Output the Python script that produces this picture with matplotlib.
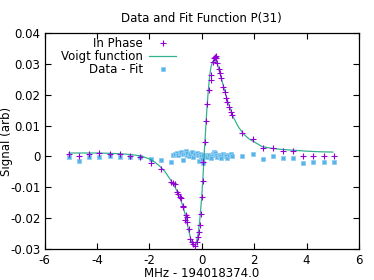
import matplotlib
matplotlib.use("Agg")
import matplotlib.pyplot as plt

# in-phase signal (purple +)
phase_x = [-5.07, -4.69, -4.29, -3.91, -3.50, -3.12, -2.74, -2.34, -1.95, -1.56,
           -1.18, -1.10, -1.02, -0.96, -0.90, -0.84, -0.80, -0.73, -0.70, -0.64,
           -0.60, -0.58, -0.56, -0.48, -0.45, -0.39, -0.33, -0.26, -0.20, -0.14,
           -0.10, -0.07, -0.04, 0.00, 0.03, 0.06, 0.12, 0.17, 0.21, 0.28,
           0.34, 0.37, 0.41, 0.47, 0.50, 0.53, 0.56, 0.60, 0.65, 0.69,
           0.74, 0.82, 0.87, 0.92, 0.98, 1.05, 1.10, 1.14,
           1.54, 1.94, 2.32, 2.72, 3.10, 3.49, 3.87, 4.25, 4.66, 5.04]
phase_y = [0.0009, 0.0000, 0.0009, 0.0010, 0.0009, 0.0008, 0.0002, -0.0001, -0.0021, -0.0041,
           -0.0084, -0.0087, -0.0089, -0.0116, -0.0122, -0.0131, -0.0134, -0.0161, -0.0164, -0.0207,
           -0.0190, -0.0213, -0.0198, -0.0236, -0.0268, -0.0276, -0.0284, -0.0292, -0.0276, -0.0260,
           -0.0246, -0.0222, -0.0188, -0.0131, -0.0080, -0.0019, 0.0046, 0.0115, 0.0170, 0.0214,
           0.0248, 0.0264, 0.0305, 0.0318, 0.0323, 0.0325, 0.0318, 0.0302, 0.0283, 0.0269,
           0.0255, 0.0226, 0.0210, 0.0188, 0.0177, 0.0161, 0.0145, 0.0134,
           0.0076, 0.0055, 0.0027, 0.0026, 0.0018, 0.0018, 0.0000, 0.0000, 0.0000, 0.0000]

# residuals, data - fit (blue)
resid_y = [-0.0003, -0.0014, -0.0003, -0.0002, 0.0000, -0.0002, -0.0003, -0.0002, -0.0009, -0.0012,
           -0.0017, 0.0004, 0.0009, 0.0012, 0.0006, 0.0010, 0.0014, 0.0008, -0.0012, 0.0011,
           0.0016, 0.0006, 0.0012, 0.0002, 0.0009, 0.0013, -0.0002, 0.0007, 0.0011, 0.0004,
           -0.0016, 0.0008, 0.0001, -0.0008, 0.0003, -0.0020, 0.0005, 0.0002, -0.0003, 0.0006,
           0.0002, -0.0004, 0.0009, 0.0013, 0.0010, 0.0006, 0.0003, -0.0002, 0.0005, 0.0002,
           -0.0004, 0.0009, 0.0005, 0.0000, -0.0006, 0.0004, 0.0007, 0.0001,
           0.0001, 0.0008, -0.0008, 0.0001, -0.0005, -0.0005, -0.0020, -0.0019, -0.0019, -0.0019]

# fitted voigt curve
fit_x = [-5.07, -4.5, -4.0, -3.5, -3.0, -2.6, -2.3, -2.0, -1.8, -1.6,
         -1.4, -1.2, -1.0, -0.9, -0.8, -0.7, -0.6, -0.5, -0.4, -0.33,
         -0.28, -0.22, -0.15, -0.08, 0.0, 0.05, 0.1, 0.15, 0.2, 0.25,
         0.3, 0.35, 0.42, 0.48, 0.53, 0.58, 0.65, 0.75, 0.85, 1.0,
         1.2, 1.4, 1.6, 1.8, 2.0, 2.3, 2.6, 3.0, 3.5, 4.0, 4.5, 5.0]
fit_y = [0.0011, 0.0011, 0.0011, 0.0010, 0.0008, 0.0005, 0.0001, -0.0008, -0.0018, -0.0032,
         -0.0050, -0.0075, -0.0103, -0.0122, -0.0142, -0.0166, -0.0200, -0.0240, -0.0275, -0.0288,
         -0.0290, -0.0283, -0.0258, -0.0210, -0.0130, -0.0060, 0.0020, 0.0090, 0.0160, 0.0215,
         0.0260, 0.0290, 0.0308, 0.0313, 0.0310, 0.0303, 0.0283, 0.0252, 0.0220, 0.0175,
         0.0128, 0.0095, 0.0072, 0.0057, 0.0047, 0.0032, 0.0027, 0.0023, 0.0020, 0.0017, 0.0015, 0.0014]

xticks = [-6, -4, -2, 0, 2, 4, 6]
xtick_labels = ['-6', '-4', '-2', '0', '2', '4', '6']
yticks = [-0.03, -0.02, -0.01, 0, 0.01, 0.02, 0.03, 0.04]
ytick_labels = ['-0.03', '-0.02', '-0.01', '0', '0.01', '0.02', '0.03', '0.04']

plt.rcParams['font.family'] = 'DejaVu Sans'
plt.rcParams['font.size'] = 8.5

fig = plt.figure(figsize=(3.74, 2.80), dpi=100)
ax = fig.add_axes([0.119, 0.111, 0.841, 0.771])

ax.plot(phase_x, phase_y, '+', color='#9400d3', markersize=4, markeredgewidth=0.8,
        label='In Phase', zorder=3)
ax.plot(fit_x, fit_y, '-', color='#009e73', linewidth=0.9, alpha=0.8,
        label='Voigt function', zorder=2)
ax.plot(phase_x, resid_y, linestyle='none', marker='s', color='#56b4e9',
        markersize=3.2, markeredgewidth=0.6, markeredgecolor='#8ecdf2',
        label='Data - Fit', zorder=1)

ax.set_xlim(-6, 6)
ax.set_ylim(-0.03, 0.04)
ax.set_xticks(xticks)
ax.set_xticklabels(xtick_labels)
ax.set_yticks(yticks)
ax.set_yticklabels(ytick_labels)
ax.tick_params(direction='in', length=4, width=0.8, top=True, right=True)
ax.tick_params(axis='x', pad=3.5)
ax.tick_params(axis='y', pad=3)
for s in ax.spines.values():
    s.set_linewidth(0.9)

ax.set_title('Data and Fit Function P(31)', fontsize=8.5, pad=8)
ax.set_xlabel('MHz - 194018374.0', labelpad=0)
ax.set_ylabel('Signal (arb)')
ax.yaxis.set_label_coords(-0.10, 0.5)

ax.legend(loc='upper right', bbox_to_anchor=(0.445, 1.02), frameon=False,
          markerfirst=False, handlelength=2.3, handletextpad=0.5,
          labelspacing=0.0, borderpad=0.2, fontsize=8.5)

fig.savefig('out.png', dpi=100)
